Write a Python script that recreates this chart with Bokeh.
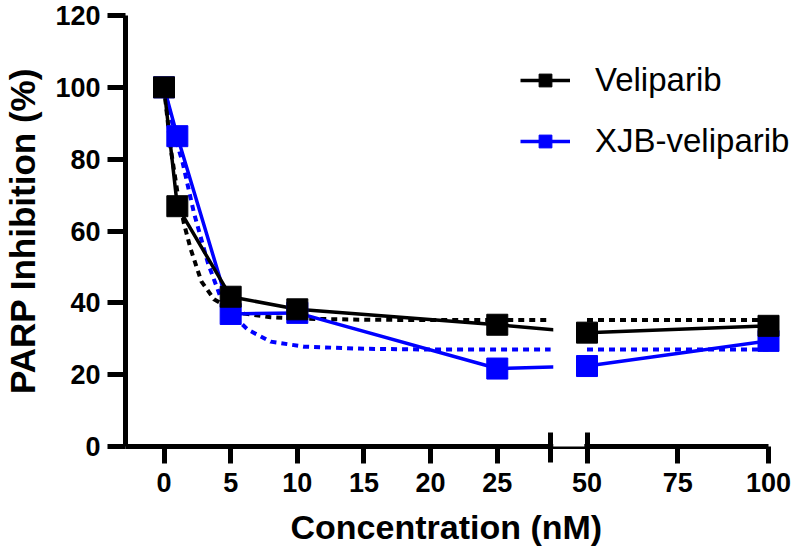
from bokeh.plotting import figure
from bokeh.models import Range1d, FixedTicker, BoxAnnotation, Legend, LegendItem, Title
from bokeh.embed import file_html
from bokeh.resources import INLINE

# ---------------- data ----------------
conc = [0, 1, 5, 10, 25, 50, 100]
veliparib = [100, 66.9, 41.7, 38.2, 33.9, 31.7, 33.6]
xjb_veliparib = [100, 86.4, 36.9, 37.2, 21.7, 22.4, 29.4]

# fitted (dotted) curves, left segment
veliparib_fit_conc = [0, 0.5, 1, 1.5, 2, 2.8, 3.75, 5, 6, 8, 10, 15, 20, 25, 29]
veliparib_fit = [100, 83, 71, 62, 55, 46, 41, 38.3, 37, 36, 35.6, 35.3, 35.2, 35.2, 35.2]
xjb_fit_conc = [0, 0.5, 1, 1.4, 2.25, 3.3, 4.3, 5, 6.3, 8, 10.5, 15, 20, 25, 29]
xjb_fit = [100, 92, 84, 79, 65, 51, 41, 37, 32.5, 29.2, 27.8, 27.2, 27.0, 27.0, 27.0]
# fitted curves, right segment
fit_conc_right = [50, 100]
veliparib_fit_right = [35.2, 35.2]
xjb_fit_right = [27.0, 27.0]

y_ticks = [0, 20, 40, 60, 80, 100, 120]
x_ticks = [0, 5, 10, 15, 20, 25, 50, 75, 100]

# ---------------- broken x axis mapping ----------------
LEFT_END = 29         # last value of the left segment
RIGHT_START = 50      # first value of the right segment
RIGHT_END = 100
GAP = 2.73            # gap between segments (left-segment units)
RIGHT_SCALE = 0.2723  # right segment compression
X_START = -2.888
X_PAD_RIGHT = 2.1     # room right of the axis end (for markers / legend)


def to_u(v):
    if v <= LEFT_END:
        return v
    return round(LEFT_END + GAP + (v - RIGHT_START) * RIGHT_SCALE, 4)


def map_u(vals):
    return [to_u(v) for v in vals]


FONT = "Liberation Sans"
BLUE = "#0000FF"
BLACK = "#000000"

p = figure(width=800, height=558, output_backend="svg", toolbar_location=None,
           x_range=Range1d(X_START, to_u(RIGHT_END) + X_PAD_RIGHT),
           y_range=Range1d(0, 120),
           min_border_left=125, min_border_right=4, min_border_top=15,
           min_border_bottom=112)
p.outline_line_color = None
p.grid.visible = False
p.background_fill_color = "white"
p.border_fill_color = "white"

# ---------------- axes ----------------
xa = p.xaxis[0]
tick_u = map_u(x_ticks)
xa.bounds = (X_START, to_u(RIGHT_END))
xa.ticker = FixedTicker(ticks=tick_u, minor_ticks=[LEFT_END, to_u(RIGHT_START)])
xa.major_label_overrides = {u: str(v) for u, v in zip(tick_u, x_ticks)}
xa.axis_line_width = 5
xa.major_tick_line_width = 5
xa.major_tick_in = 0
xa.major_tick_out = 17
xa.minor_tick_line_width = 5
xa.minor_tick_in = 14
xa.minor_tick_out = 16
xa.major_label_text_font = FONT
xa.major_label_text_font_style = "bold"
xa.major_label_text_font_size = "27px"
xa.major_label_text_color = BLACK
xa.major_label_standoff = 9

x_title = Title(text="Concentration (nM)", align="left", offset=165,
                text_font=FONT, text_font_style="bold", text_font_size="34px",
                text_color=BLACK, standoff=22)
p.add_layout(x_title, "below")

ya = p.yaxis[0]
ya.ticker = FixedTicker(ticks=y_ticks, minor_ticks=[])
ya.axis_line_width = 5
ya.major_tick_line_width = 5
ya.major_tick_in = 0
ya.major_tick_out = 18
ya.major_label_text_font = FONT
ya.major_label_text_font_style = "bold"
ya.major_label_text_font_size = "27px"
ya.major_label_text_color = BLACK
ya.major_label_standoff = 7
ya.axis_label = "PARP Inhibition (%)"
ya.axis_label_text_font = FONT
ya.axis_label_text_font_style = "bold"
ya.axis_label_text_font_size = "35px"
ya.axis_label_text_color = BLACK
ya.axis_label_standoff = 10

# ---------------- data glyphs ----------------
# fitted curves (dotted)
p.line(map_u(xjb_fit_conc), xjb_fit, line_color=BLUE, line_width=4, line_dash="6 5")
p.line(map_u(fit_conc_right), xjb_fit_right, line_color=BLUE, line_width=4, line_dash="6 5")
p.line(map_u(veliparib_fit_conc), veliparib_fit, line_color=BLACK, line_width=4, line_dash="6 5")
p.line(map_u(fit_conc_right), veliparib_fit_right, line_color=BLACK, line_width=4, line_dash="6 5")

# connecting lines
xjb_line = p.line(map_u(conc), xjb_veliparib, line_color=BLUE, line_width=3.5)
vel_line = p.line(map_u(conc), veliparib, line_color=BLACK, line_width=3.5)

# gap of the broken axis
gap_box = BoxAnnotation(left=LEFT_END + 0.2, right=to_u(RIGHT_START) - 0.2,
                        bottom=-3.5, top=55, fill_color="white", fill_alpha=1.0,
                        line_color=None)
p.add_layout(gap_box)

xjb_pts = p.scatter(map_u(conc), xjb_veliparib, marker="square", size=21,
                    fill_color=BLUE, line_color=BLUE, level="overlay")
vel_pts = p.scatter(map_u(conc), veliparib, marker="square", size=21,
                    fill_color=BLACK, line_color=BLACK, level="overlay")

legend = Legend(items=[LegendItem(label="Veliparib", renderers=[vel_line, vel_pts]),
                       LegendItem(label="XJB-veliparib", renderers=[xjb_line, xjb_pts])],
                location=(395, 286))
legend.level = "overlay"
legend.border_line_color = None
legend.background_fill_alpha = 0
legend.padding = 0
legend.margin = 0
legend.spacing = 23
legend.glyph_width = 50
legend.glyph_height = 32
legend.label_standoff = 25
legend.label_text_font = FONT
legend.label_text_font_size = "33px"
legend.label_text_color = BLACK
p.add_layout(legend)

open("out.html", "w").write(file_html(p, INLINE))
